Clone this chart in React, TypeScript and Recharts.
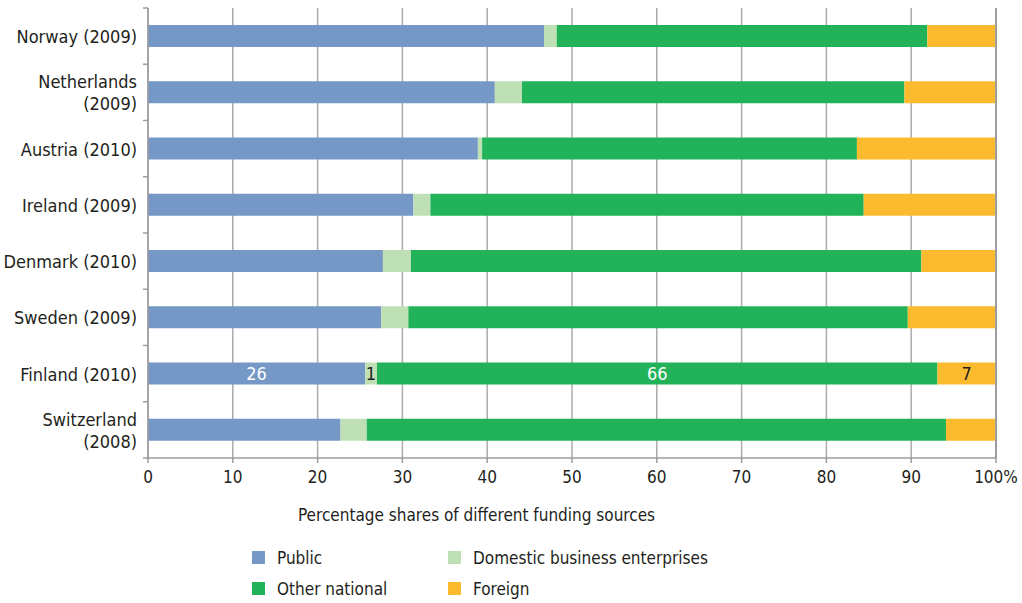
import React from "react";
import {
  BarChart,
  Bar,
  XAxis,
  YAxis,
  CartesianGrid,
  LabelList,
  ReferenceLine,
} from "recharts";

const countries = [
  "Norway (2009)",
  "Netherlands\n(2009)",
  "Austria (2010)",
  "Ireland (2009)",
  "Denmark (2010)",
  "Sweden (2009)",
  "Finland (2010)",
  "Switzerland\n(2008)",
];
const publicShare = [46.7, 40.9, 38.9, 31.3, 27.7, 27.5, 25.6, 22.7];
const domesticShare = [1.5, 3.2, 0.5, 2.0, 3.3, 3.2, 1.4, 3.1];
const otherNational = [43.7, 45.1, 44.2, 51.1, 60.2, 58.9, 66.1, 68.3];
const foreignShare = [8.1, 10.8, 16.4, 15.6, 8.8, 10.4, 6.9, 5.9];
const labelledCountry = "Finland (2010)";
const xTicks = [0, 10, 20, 30, 40, 50, 60, 70, 80, 90, 100];

const series = [
  { key: "public", name: "Public", color: "#7698c6", labelColor: "#ffffff" },
  { key: "domestic", name: "Domestic business enterprises", color: "#bfe0b4", labelColor: "#231f20" },
  { key: "other", name: "Other national", color: "#22b35a", labelColor: "#ffffff" },
  { key: "foreign", name: "Foreign", color: "#fcbb2f", labelColor: "#231f20" },
];

const data = countries.map((c, i) => {
  const row: any = {
    country: c,
    public: publicShare[i],
    domestic: domesticShare[i],
    other: otherNational[i],
    foreign: foreignShare[i],
  };
  if (c === labelledCountry) {
    series.forEach((s) => {
      row[s.key + "Label"] = Math.round(row[s.key]);
    });
  }
  return row;
});

const W = 1022;
const H = 603;
const xAxisHeight = 30;
const margin = { top: 8, right: 26, bottom: 115, left: 0 };
const band = (H - margin.top - margin.bottom - xAxisHeight) / countries.length;
const font = "'DejaVu Sans Condensed', 'Liberation Sans Narrow', Roboto, sans-serif";
const textColor = "#231f20";
const axisGray = "#9d9d9f";

function CountryTick(props: any) {
  const { x, y, payload, index } = props;
  const lines = String(payload.value).split("\n");
  const lh = 22;
  const y0 = y - ((lines.length - 1) * lh) / 2;
  return (
    <g>
      <line x1={x + 6} x2={x + 11} y1={y - band / 2} y2={y - band / 2} stroke={axisGray} strokeWidth={1.5} />
      {index === countries.length - 1 && (
        <line x1={x + 6} x2={x + 11} y1={y + band / 2} y2={y + band / 2} stroke={axisGray} strokeWidth={1.5} />
      )}
      <text x={x} y={y0} textAnchor="end" dominantBaseline="central" fill={textColor} fontSize={18} fontFamily={font}>
        {lines.map((l, k) => (
          <tspan key={k} x={x} dy={k === 0 ? 0 : lh}>
            {l}
          </tspan>
        ))}
      </text>
    </g>
  );
}

function LegendBlock() {
  const item = (s: any) => (
    <div key={s.key} style={{ display: "flex", alignItems: "center", height: 31 }}>
      <span style={{ width: 13, height: 13, background: s.color, display: "inline-block", marginRight: 12 }} />
      <span>{s.name}</span>
    </div>
  );
  return (
    <div
      style={{
        position: "absolute",
        left: 0,
        top: 505,
        width: W,
        fontFamily: font,
        color: textColor,
        fontSize: 17,
      }}
    >
      <div style={{ position: "absolute", left: 298, width: 350, textAlign: "center", top: 0, whiteSpace: "nowrap" }}>
        Percentage shares of different funding sources
      </div>
      <div style={{ position: "absolute", top: 37, left: 252, display: "grid", gridTemplateColumns: "196px 400px" }}>
        {series.map(item)}
      </div>
    </div>
  );
}

export default function App() {
  return (
    <div style={{ position: "absolute", left: 0, top: 0, width: W, height: H, background: "#fff" }}>
      <BarChart width={W} height={H} data={data} layout="vertical" margin={margin} barSize={22}>
        <CartesianGrid horizontal={false} vertical stroke="#ababab" strokeWidth={1.5} />
        <XAxis
          type="number"
          domain={[0, 100]}
          ticks={xTicks}
          height={xAxisHeight}
          tickFormatter={(v) => (v === 100 ? "100%" : String(v))}
          axisLine={{ stroke: axisGray, strokeWidth: 1.5 }}
          tickLine={{ stroke: axisGray, strokeWidth: 1.5 }}
          tickSize={5}
          tickMargin={8}
          tick={{ fill: textColor, fontSize: 17, fontFamily: font }}
          interval={0}
        />
        <YAxis
          type="category"
          dataKey="country"
          width={148}
          axisLine={{ stroke: axisGray, strokeWidth: 1.5 }}
          tickLine={false}
          tick={<CountryTick />}
          tickMargin={5}
          interval={0}
        />
        {series.map((s) => (
          <Bar key={s.key} dataKey={s.key} name={s.name} stackId="a" fill={s.color} isAnimationActive={false}>
            <LabelList
              dataKey={s.key + "Label"}
              position="center"
              fill={s.labelColor}
              fontSize={18}
              fontFamily={font}
            />
          </Bar>
        ))}
        <ReferenceLine x={100} stroke={axisGray} strokeWidth={2} />
      </BarChart>
      <LegendBlock />
    </div>
  );
}
